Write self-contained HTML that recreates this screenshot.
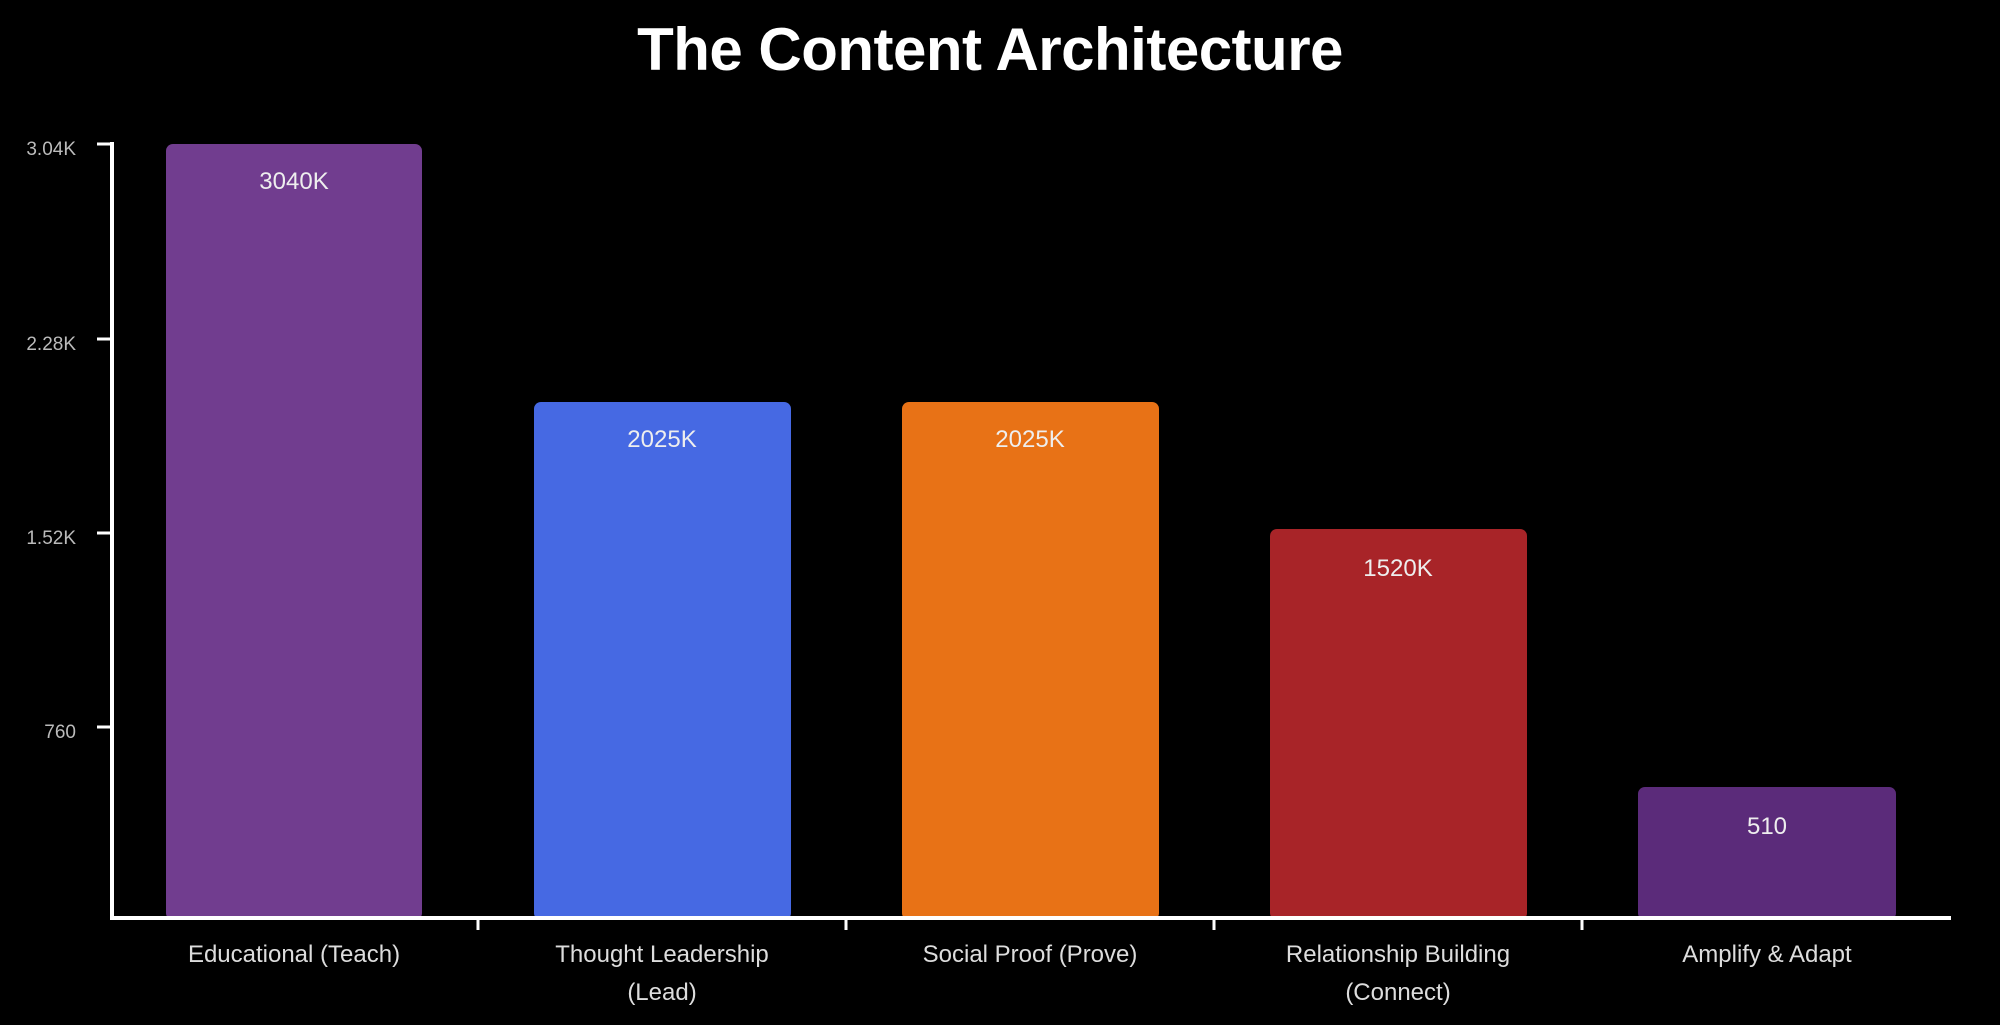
<!DOCTYPE html>
<html><head><meta charset="utf-8"><style>
html,body{margin:0;padding:0;background:#000;}
body{width:2000px;height:1025px;overflow:hidden;position:relative;font-family:"Liberation Sans",sans-serif;}
</style></head><body>
<svg width="2000" height="1025" xmlns="http://www.w3.org/2000/svg" style="position:absolute;left:0;top:0">
<rect width="2000" height="1025" fill="#000"/>
<text x="990" y="70" text-anchor="middle" fill="#fff" font-family="Liberation Sans, sans-serif" font-weight="bold" font-size="60" letter-spacing="-0.5">The Content Architecture</text>
<g font-family="Liberation Sans, sans-serif" font-size="19" fill="#bbb" text-anchor="end">
<text x="76" y="155">3.04K</text>
<text x="76" y="350">2.28K</text>
<text x="76" y="544">1.52K</text>
<text x="76" y="738">760</text>
</g>
<g stroke="#fff" stroke-width="3">
<line x1="97" y1="144" x2="112" y2="144"/>
<line x1="97" y1="339" x2="112" y2="339"/>
<line x1="97" y1="533" x2="112" y2="533"/>
<line x1="97" y1="727" x2="112" y2="727"/>
</g>
<rect x="166" y="144" width="256" height="776" rx="7" fill="#713d8f"/>
<rect x="534" y="402" width="257" height="518" rx="7" fill="#4669e3"/>
<rect x="902" y="402" width="257" height="518" rx="7" fill="#e87216"/>
<rect x="1270" y="529" width="257" height="391" rx="7" fill="#a82428"/>
<rect x="1638" y="787" width="258" height="133" rx="7" fill="#5b2b7a"/>
<g font-family="Liberation Sans, sans-serif" font-size="24" fill="#eee" text-anchor="middle">
<text x="294" y="189">3040K</text>
<text x="662" y="447">2025K</text>
<text x="1030" y="447">2025K</text>
<text x="1398" y="576">1520K</text>
<text x="1767" y="834">510</text>
</g>
<line x1="112" y1="142" x2="112" y2="920" stroke="#fff" stroke-width="4"/>
<line x1="110" y1="918" x2="1951" y2="918" stroke="#fff" stroke-width="4"/>
<g stroke="#fff" stroke-width="3">
<line x1="478" y1="918" x2="478" y2="930"/>
<line x1="846" y1="918" x2="846" y2="930"/>
<line x1="1214" y1="918" x2="1214" y2="930"/>
<line x1="1582" y1="918" x2="1582" y2="930"/>
</g>
<g font-family="Liberation Sans, sans-serif" font-size="24" fill="#ddd" text-anchor="middle">
<text x="294" y="962">Educational (Teach)</text>
<text x="662" y="962">Thought Leadership</text>
<text x="662" y="1000">(Lead)</text>
<text x="1030" y="962">Social Proof (Prove)</text>
<text x="1398" y="962">Relationship Building</text>
<text x="1398" y="1000">(Connect)</text>
<text x="1767" y="962">Amplify &amp; Adapt</text>
</g>
</svg>
</body></html>
